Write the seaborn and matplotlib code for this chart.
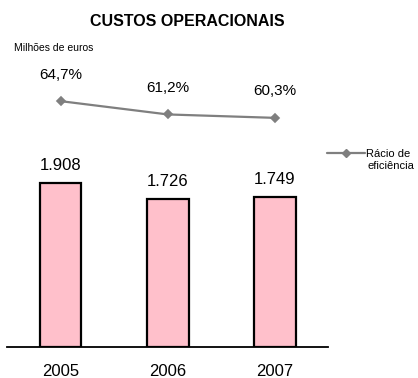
import matplotlib
matplotlib.use("Agg")
import matplotlib.pyplot as plt
import seaborn as sns
import pandas as pd
from matplotlib.lines import Line2D

years = ["2005", "2006", "2007"]
costs = [1908, 1726, 1749]
cost_labels = ["1.908", "1.726", "1.749"]
ratio = [64.7, 61.2, 60.3]
ratio_labels = ["64,7%", "61,2%", "60,3%"]

sns.set_style("white")
plt.rcParams['font.family'] = ['Liberation Sans', 'DejaVu Sans']
plt.rcParams['text.color'] = 'black'
plt.rcParams['xtick.color'] = 'black'

W, H = 418, 378
fig = plt.figure(figsize=(W / 100, H / 100), dpi=100)
left_px, right_px, base_px, top_px = 7, 328.5, 347, 50
ax = fig.add_axes([left_px / W, 1 - base_px / H, (right_px - left_px) / W, (base_px - top_px) / H])

df = pd.DataFrame({"year": years, "cost": costs, "ratio": ratio})
sns.barplot(data=df, x="year", y="cost", ax=ax, color="#FFC0CB", saturation=1,
            width=0.39, edgecolor="black", linewidth=1.6)
ax.bar_label(ax.containers[0], labels=cost_labels, padding=7, fontsize=12, color="black")
ax.set_ylim(0, (base_px - top_px) / 0.086)

ax2 = ax.twinx()
sns.pointplot(data=df, x="year", y="ratio", ax=ax2, color="#7f7f7f",
              markers="D", markersize=4, linewidth=1.6, errorbar=None)
ax2.set_ylim(0, (base_px - top_px) / 3.8)
for i, (v, lab) in enumerate(zip(ratio, ratio_labels)):
    ax2.annotate(lab, (i, v), xytext=(0, 19), textcoords="offset points",
                 ha="center", va="center", fontsize=11, color="black")

for a in (ax, ax2):
    a.set_xlim(-0.5, 2.5)
    a.set_ylabel("")
    a.set_xlabel("")
    a.set_yticks([])
    for s in ("top", "left", "right"):
        a.spines[s].set_visible(False)
ax2.spines["bottom"].set_visible(False)
ax.spines["bottom"].set_linewidth(1.3)
ax.spines["bottom"].set_color("black")
ax.tick_params(axis="x", length=0, pad=12, labelsize=12, labelcolor="black")

fig.text(187 / W, 1 - 21 / H, "CUSTOS OPERACIONAIS", ha="center", va="center",
         fontsize=11.5, fontweight="bold", color="black")
fig.text(14 / W, 1 - 48 / H, "Milhões de euros", ha="left", va="center",
         fontsize=7.5, color="black")

handle = Line2D([], [], color="#7f7f7f", marker="D", markersize=4, linewidth=1.6)
fig.legend([handle], ["Rácio de"], loc="center left",
           bbox_to_anchor=(327 / W, 1 - 154 / H), frameon=False, fontsize=8,
           handlelength=3.4, handletextpad=0.1, borderpad=0, borderaxespad=0,
           labelcolor="black")
fig.text(367 / W, 1 - 166 / H, "eficiência", ha="left", va="center",
         fontsize=8, color="black")

fig.savefig("out.png", dpi=100)
